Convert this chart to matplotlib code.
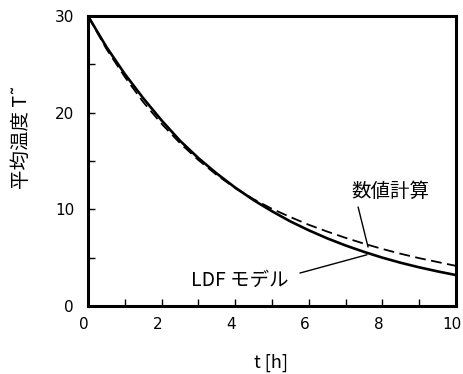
import matplotlib
matplotlib.use("Agg")
import matplotlib.pyplot as plt
from matplotlib.transforms import ScaledTranslation

plt.rcParams['font.family'] = ['Noto Sans CJK JP', 'DejaVu Sans']

t_ldf = [0, 0.5, 1, 1.5, 2, 2.5, 3, 3.5, 4, 4.5, 5, 5.5, 6, 6.5, 7, 7.5, 8, 8.5, 9, 9.5, 10]
T_ldf = [30.0, 26.8, 24.0, 21.5, 19.2, 17.1, 15.3, 13.7, 12.25, 10.95, 9.8, 8.75, 7.83, 7.0, 6.26, 5.6, 5.0, 4.47, 4.0, 3.58, 3.2]

t_num = [0, 0.5, 1, 1.5, 2, 2.5, 3, 3.5, 4, 4.5, 5, 5.5, 6, 6.5, 7, 7.5, 8, 8.5, 9, 9.5, 10]
T_num = [30.0, 26.6, 23.7, 21.1, 18.85, 16.85, 15.1, 13.55, 12.2, 11.05, 10.05, 9.2, 8.4, 7.7, 7.05, 6.45, 5.9, 5.4, 4.95, 4.55, 4.15]

x_ticks = [0, 2, 4, 6, 8, 10]
y_ticks = [0, 10, 20, 30]

label_num = '数値計算'
label_ldf = 'LDF モデル'

fig = plt.figure(figsize=(4.63, 3.74), dpi=100)
ax = fig.add_axes([88/463, 1-306/374, (456-88)/463, (306-16)/374])

ax.plot(t_num, T_num, color='black', lw=1.3, dashes=(6, 3))
ax.plot(t_ldf, T_ldf, color='black', lw=1.9)

ax.set_xlim(0, 10)
ax.set_ylim(0, 30)
ax.set_xticks(x_ticks)
ax.set_yticks(y_ticks)
ax.set_xticks([1, 3, 5, 7, 9], minor=True)
ax.set_yticks([5, 15, 25], minor=True)
ax.tick_params(which='both', direction='in', top=False, right=False, width=1, color='black')
ax.tick_params(which='major', length=5)
ax.tick_params(which='minor', length=5)
ax.tick_params(axis='x', pad=8)
ax.tick_params(axis='y', pad=10)
shift = ScaledTranslation(-4/100, 0, fig.dpi_scale_trans)
for lab in ax.get_xticklabels():
    lab.set_transform(lab.get_transform() + shift)
for lab in ax.get_xticklabels() + ax.get_yticklabels():
    lab.set_fontfamily('DejaVu Sans')
    lab.set_fontsize(11)
for s in ax.spines.values():
    s.set_linewidth(2.2)

fig.text(271/463, 1-363/374, 't [h]', fontsize=13, ha='center', va='center')
fig.text(21/463, 1-137/374, '平均温度 T\u02DC', fontsize=14, rotation=90, ha='center', va='center')

ax.text(8.21, 11.8, label_num, fontsize=14, ha='center', va='center')
ax.annotate('', xy=(7.61, 6.1), xytext=(7.34, 10.24),
            arrowprops=dict(arrowstyle='-', color='black', lw=1, shrinkA=0, shrinkB=0))
ax.text(4.13, 2.69, label_ldf, fontsize=14, ha='center', va='center')
ax.annotate('', xy=(7.58, 5.3), xytext=(5.76, 3.41),
            arrowprops=dict(arrowstyle='-', color='black', lw=1, shrinkA=0, shrinkB=0))

fig.savefig('out.png', dpi=100)
